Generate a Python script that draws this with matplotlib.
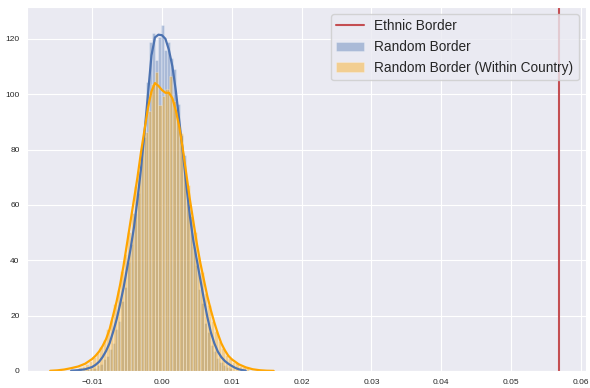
import numpy as np
import matplotlib
matplotlib.use("Agg")
import matplotlib.pyplot as plt
import seaborn as sns

sns.set_style("darkgrid")
plt.rcParams["font.family"] = ["Liberation Sans", "DejaVu Sans"]

# observed value for ethnic borders
ethnic_value = 0.0568

# histogram of random borders (density)
random_edges = np.linspace(-0.0120, 0.0100, 51)
random_heights = [0.2, 0.0, 0.4, 0.6, 0.9, 1.1, 2.0, 2.5, 4.2, 5.3,
                  8.1, 10.2, 15.0, 18.1, 25.3, 30.2, 39.5, 45.8, 57.2, 64.3,
                  77.1, 84.6, 104.5, 119.0, 122.0, 112.5, 120.5, 125.0, 116.0, 118.7,
                  113.0, 109.0, 96.5, 85.3, 78.0, 64.9, 55.8, 45.1, 38.2, 29.5,
                  24.6, 17.4, 14.2, 9.4, 7.3, 4.5, 3.3, 2.2, 1.5, 0.9]

# histogram of random borders within country (density)
within_edges = np.linspace(-0.0125, 0.0125, 51)
within_heights = [0.8, 1.3, 1.8, 2.6, 3.5, 4.9, 6.3, 8.8, 11.0, 15.3,
                  18.4, 24.2, 29.4, 36.0, 42.2, 50.3, 57.1, 66.7, 72.4, 81.5,
                  86.3, 93.8, 103.5, 108.0, 96.0, 99.5, 102.0, 106.6, 97.6, 92.5,
                  85.8, 74.5, 67.0, 55.8, 50.2, 41.0, 35.6, 28.3, 23.9, 18.1,
                  14.6, 10.8, 8.3, 5.9, 4.6, 3.3, 2.7, 1.8, 1.4, 0.9]

# kde curves
random_kde_x = [-0.013, -0.012, -0.011, -0.010, -0.0095, -0.009, -0.0085, -0.008,
                -0.0075, -0.007, -0.0065, -0.006, -0.0055, -0.005, -0.0045, -0.004,
                -0.0035, -0.003, -0.0025, -0.002, -0.0015, -0.001, -0.0005, 0.0,
                0.0005, 0.001, 0.0015, 0.002, 0.0025, 0.003, 0.0035, 0.004,
                0.0045, 0.005, 0.0055, 0.006, 0.0065, 0.007, 0.0075, 0.008,
                0.0085, 0.009, 0.0095, 0.010, 0.0105, 0.011, 0.0115, 0.012]
random_kde_y = [0.08, 0.25, 0.6, 1.4, 2.2, 3.3, 5.0, 7.2,
                10.0, 14.0, 18.5, 24.0, 30.0, 37.0, 44.0, 52.0,
                62.0, 73.0, 86.0, 100.0, 114.0, 120.5, 121.5, 121.3,
                120.0, 116.0, 110.0, 101.0, 90.0, 79.0, 67.0, 56.0,
                47.0, 40.0, 33.0, 26.0, 19.5, 14.0, 10.0, 7.0,
                5.0, 3.6, 2.6, 1.8, 1.1, 0.6, 0.3, 0.1]

within_kde_x = [-0.016, -0.015, -0.014, -0.013, -0.012, -0.011, -0.010, -0.0095,
                -0.009, -0.0085, -0.008, -0.0075, -0.007, -0.0065, -0.006, -0.0055,
                -0.005, -0.0045, -0.004, -0.0035, -0.003, -0.0025, -0.002, -0.0015,
                -0.001, -0.0005, 0.0, 0.0005, 0.001, 0.0015, 0.002, 0.0025,
                0.003, 0.0035, 0.004, 0.0045, 0.005, 0.0055, 0.006, 0.0065,
                0.007, 0.0075, 0.008, 0.0085, 0.009, 0.0095, 0.010, 0.011,
                0.012, 0.013, 0.014, 0.015, 0.016]
within_kde_y = [0.05, 0.2, 0.5, 1.0, 1.6, 2.6, 4.3, 5.5,
                7.0, 9.0, 11.5, 15.0, 20.0, 25.0, 31.0, 38.0,
                46.0, 54.0, 62.0, 70.0, 79.0, 87.0, 95.0, 101.0,
                104.0, 103.0, 101.5, 100.5, 100.5, 98.5, 94.0, 88.0,
                80.0, 71.0, 62.0, 54.0, 46.0, 39.0, 33.0, 27.0,
                22.0, 17.5, 13.5, 10.0, 7.5, 5.5, 4.2, 2.4,
                1.3, 0.6, 0.25, 0.08, 0.02]

blue = "#4c72b0"
fig, ax = plt.subplots(figsize=(5.9, 3.88), dpi=100)
fig.subplots_adjust(left=0.046, right=0.993, bottom=0.044, top=0.982)

ax.axvline(ethnic_value, color="#c44e52", linewidth=1.5, label="Ethnic Border")

ax.bar(random_edges[:-1], random_heights, width=np.diff(random_edges), align="edge",
       color=blue, alpha=0.4, edgecolor="white", linewidth=0.4, label="Random Border")
ax.plot(random_kde_x, random_kde_y, color=blue, linewidth=1.6)

ax.bar(within_edges[:-1], within_heights, width=np.diff(within_edges), align="edge",
       color="orange", alpha=0.4, edgecolor="white", linewidth=0.4,
       label="Random Border (Within Country)")
ax.plot(within_kde_x, within_kde_y, color="orange", linewidth=1.6)

ax.set_xlim(-0.0193, 0.0607)
ax.set_ylim(0, 131.5)
ax.set_xticks([-0.01, 0.0, 0.01, 0.02, 0.03, 0.04, 0.05, 0.06])
ax.set_yticks([0, 20, 40, 60, 80, 100, 120])
ax.tick_params(labelsize=6, pad=2)

ax.legend(loc="upper right", fontsize=9.8)

plt.savefig("out.png")
